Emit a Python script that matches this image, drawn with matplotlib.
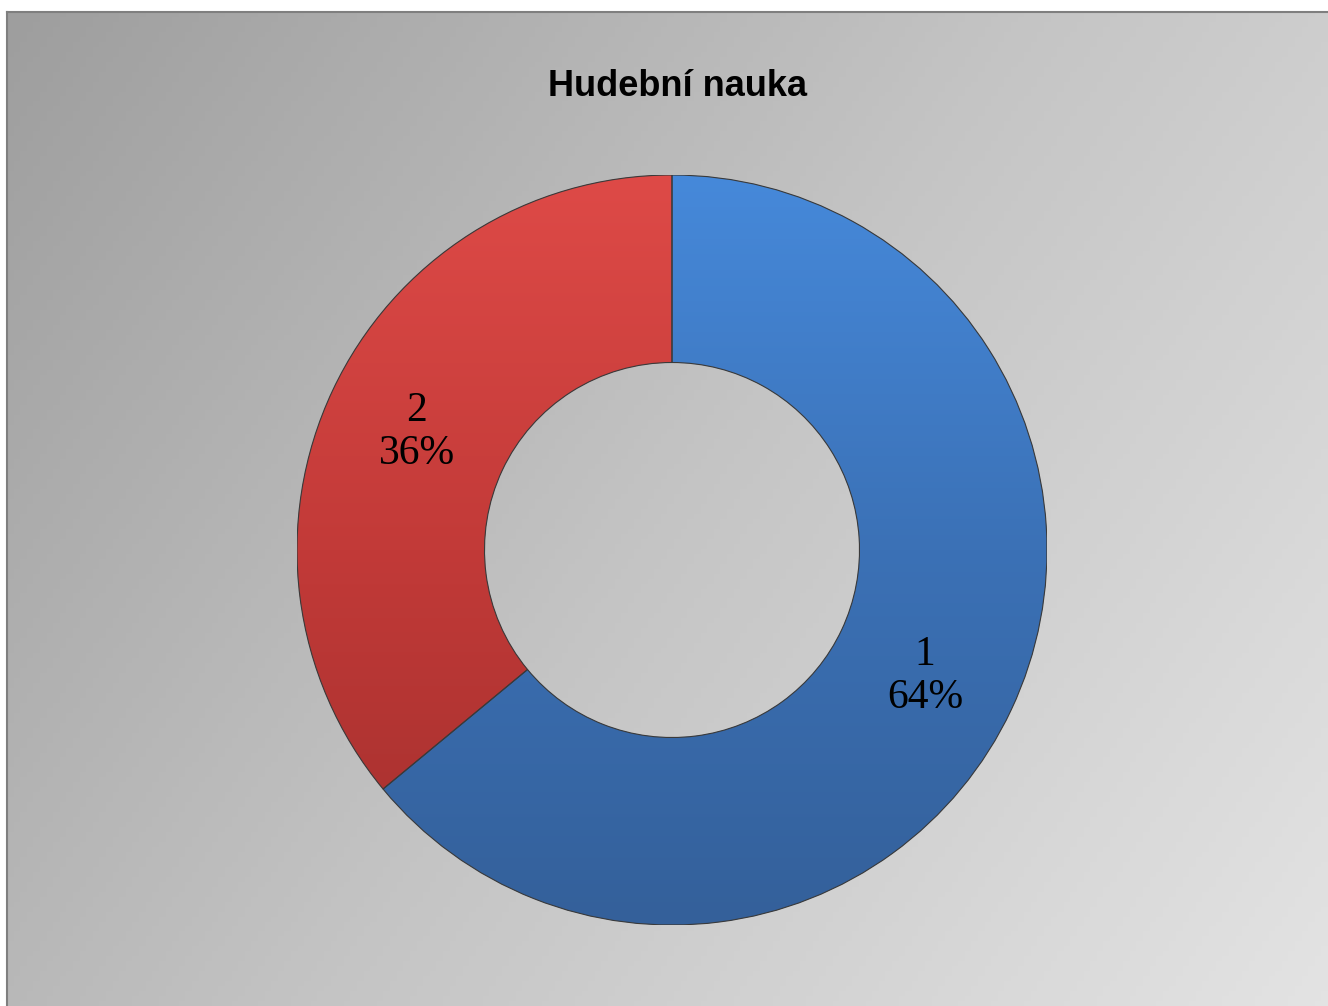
import numpy as np
import matplotlib.pyplot as plt
from matplotlib.colors import LinearSegmentedColormap
from matplotlib.patches import PathPatch

# data
labels = ["1", "2"]
shares = [64, 36]
title = "Hudební nauka"

W, H = 1328, 1006
fig = plt.figure(figsize=(W / 100, H / 100), dpi=100)
fig.patch.set_facecolor("white")

# background with diagonal gradient
bg = fig.add_axes([7 / W, 0, 1 - 7 / W, 1 - 12 / H])
yy, xx = np.mgrid[0:1:200j, 0:1:200j]
g = (xx * 0.65 + yy * 0.35)
bg_cmap = LinearSegmentedColormap.from_list("bg", ["#9e9e9e", "#c4c4c4", "#e3e3e3"])
bg.imshow(g, cmap=bg_cmap, extent=[0, 1, 0, 1], origin="upper", aspect="auto")
bg.set_xlim(0, 1)
bg.set_ylim(0, 1)
bg.set_xticks([])
bg.set_yticks([])
for s in bg.spines.values():
    s.set_color("#7f7f7f")
    s.set_linewidth(1.5)
bg.spines["right"].set_visible(False)
bg.spines["bottom"].set_visible(False)

# donut
cx, cy, R = 672, 550, 375
ax = fig.add_axes([(cx - R) / W, (H - cy - R) / H, 2 * R / W, 2 * R / H])
ax.axis("off")

wedges, _ = ax.pie(shares, startangle=90, counterclock=False, radius=1,
                   colors=["#3f7cc8", "#c83c3a"],
                   wedgeprops=dict(width=0.5, edgecolor="none"))

# top -> bottom shading
grads = [["#4689da", "#3b71b6", "#34609a"],
         ["#de4a47", "#c23a38", "#a22f2d"]]
gy = np.linspace(0, 1, 256).reshape(-1, 1)
for w, cols in zip(wedges, grads):
    cm = LinearSegmentedColormap.from_list("w", cols)
    im = ax.imshow(gy, cmap=cm, extent=[-1, 1, -1, 1], origin="upper",
                   aspect="auto", zorder=w.get_zorder() + 0.1)
    im.set_clip_path(w)
    ax.add_patch(PathPatch(w.get_path(), fill=False, edgecolor="#3a3a3a",
                           linewidth=0.8, zorder=w.get_zorder() + 0.2,
                           transform=w.get_transform()))

ax.set_xlim(-1, 1)
ax.set_ylim(-1, 1)

# labels
lab_pos = [(925, 676), (417, 432)]
for (px, py), lab, v in zip(lab_pos, labels, shares):
    fig.text(px / W, 1 - py / H, f"{lab}\n{v}%", ha="center", va="center",
             fontsize=30, family="Liberation Serif", linespacing=1.15)

fig.text(678 / W, 1 - 87 / H, title, ha="center", va="center",
         fontsize=26, fontweight="bold", family="Liberation Sans")

fig.savefig("out.png", dpi=100)
